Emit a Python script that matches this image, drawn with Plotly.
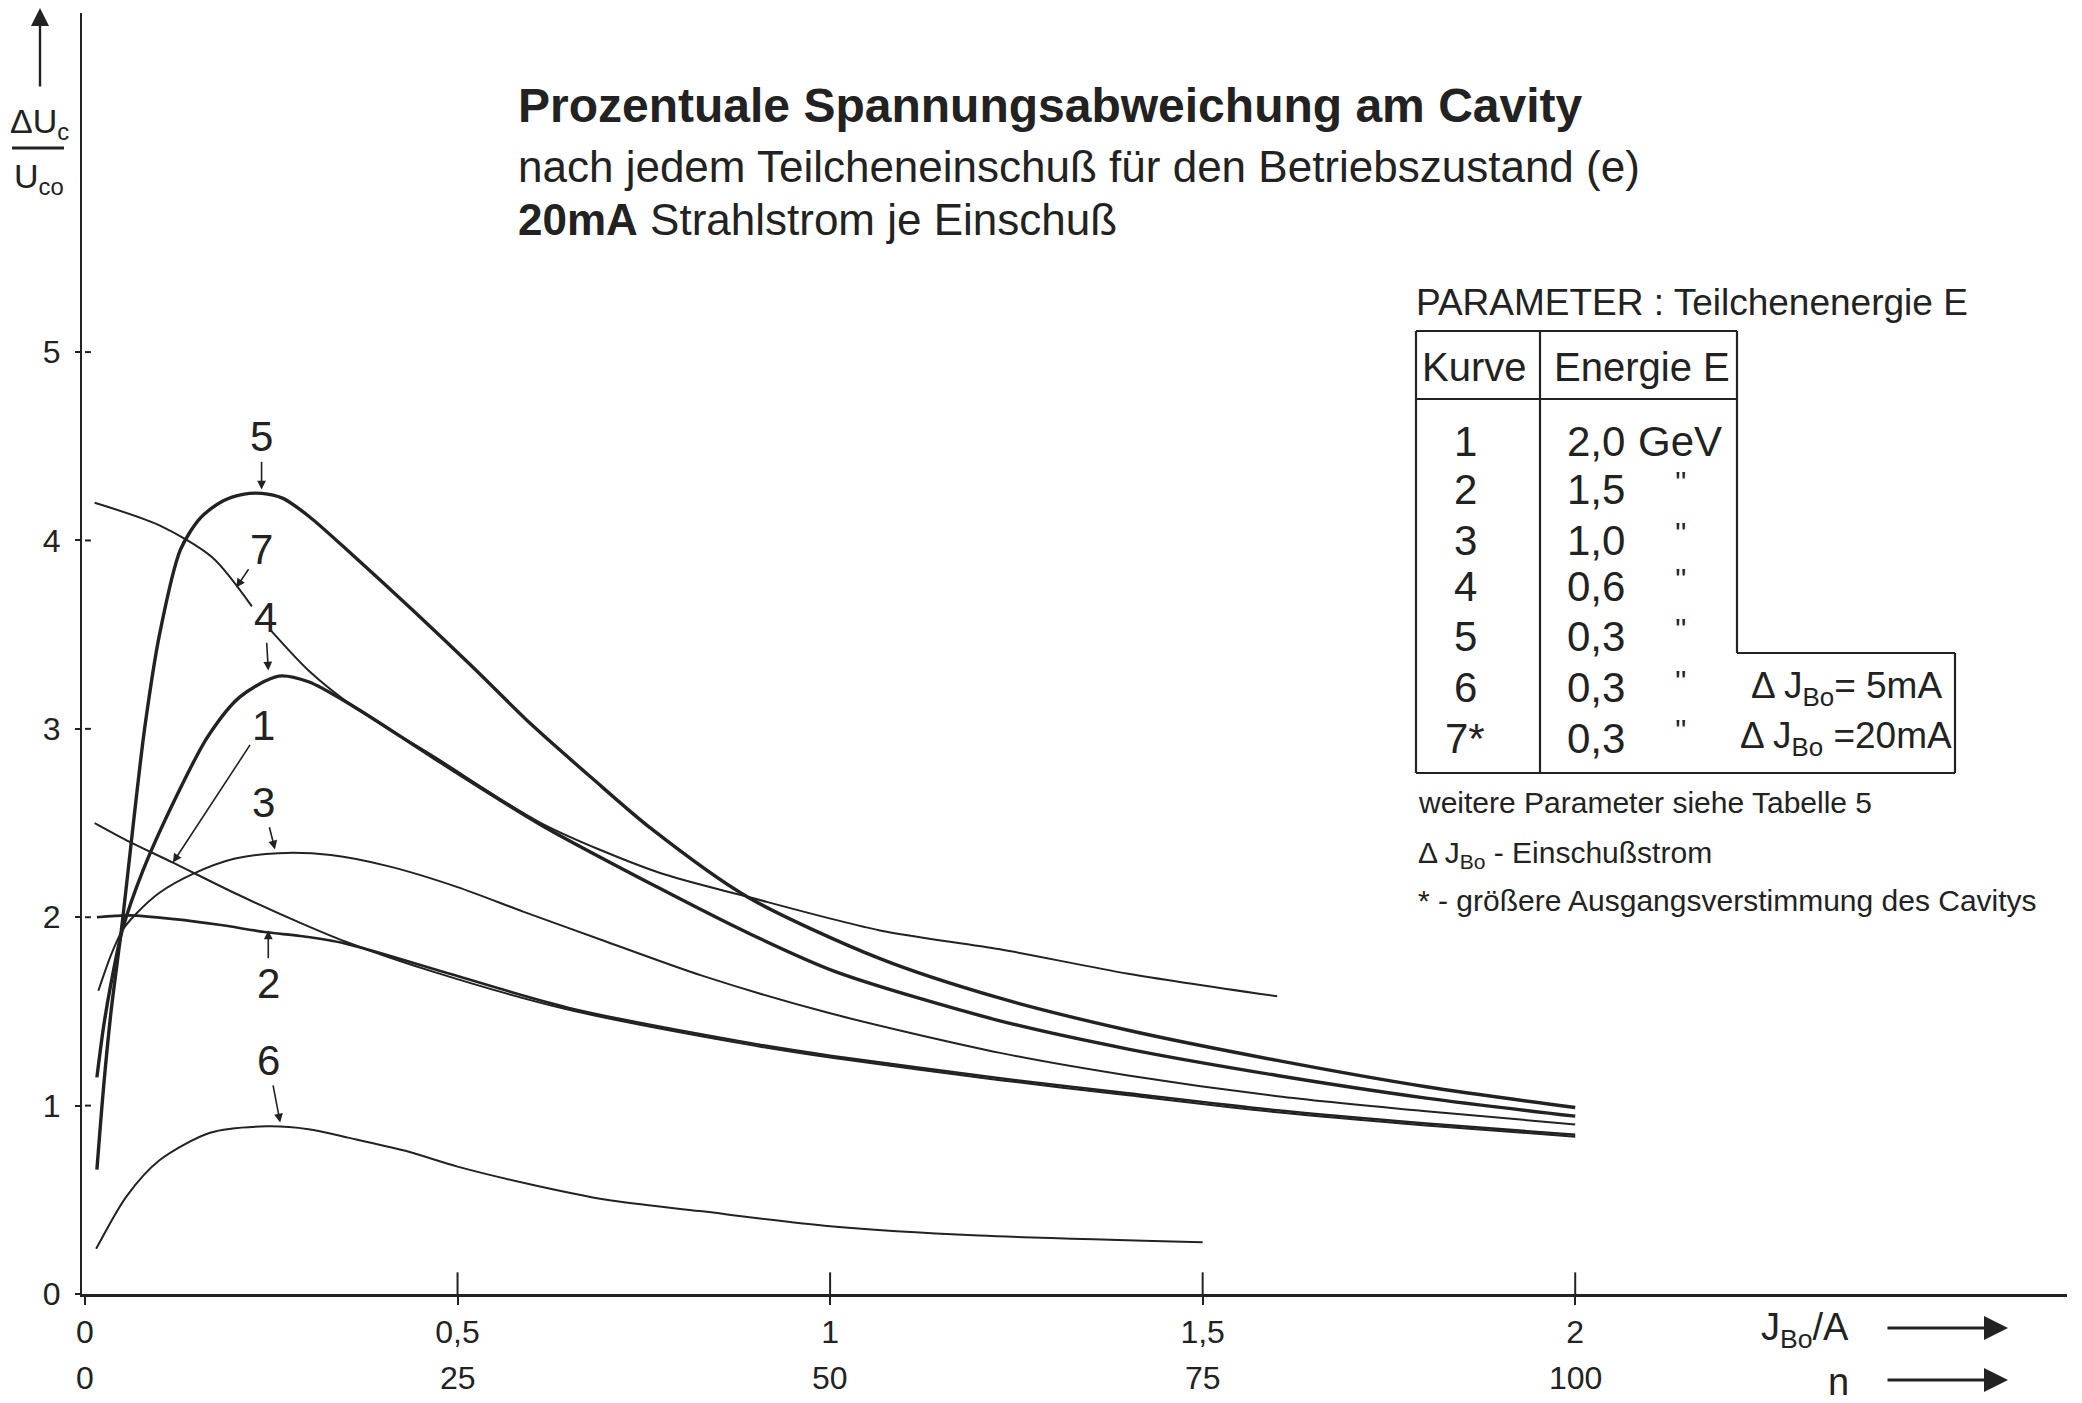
import plotly.graph_objects as go

# ---------------- data ----------------
# x: J_Bo in A, y: Delta U_c / U_co in %
c1_x = [0.013, 0.06, 0.118, 0.2, 0.289, 0.35, 0.468, 0.648, 0.888, 1.0, 1.228, 1.4, 1.6, 1.8, 2.0]
c1_y = [2.50, 2.40, 2.29, 2.13, 1.97, 1.87, 1.71, 1.51, 1.325, 1.255, 1.135, 1.055, 0.965, 0.895, 0.835]

c2_x = [0.016, 0.06, 0.12, 0.18, 0.244, 0.289, 0.35, 0.468, 0.648, 0.888, 1.0, 1.228, 1.4, 1.6, 1.8, 2.0]
c2_y = [2.00, 2.01, 1.99, 1.96, 1.92, 1.90, 1.86, 1.725, 1.52, 1.335, 1.265, 1.145, 1.065, 0.975, 0.905, 0.845]

c3_x = [0.018, 0.035, 0.05, 0.069, 0.1, 0.145, 0.2, 0.26, 0.33, 0.408, 0.5, 0.588, 0.7, 0.828, 1.0, 1.228, 1.4, 1.6, 1.8, 2.0]
c3_y = [1.61, 1.80, 1.93, 2.02, 2.13, 2.23, 2.31, 2.34, 2.33, 2.27, 2.16, 2.03, 1.87, 1.69, 1.49, 1.28, 1.16, 1.05, 0.97, 0.90]

c4_x = [0.016, 0.025, 0.035, 0.05, 0.078, 0.12, 0.165, 0.208, 0.26, 0.3, 0.36, 0.47, 0.612, 0.768, 0.888, 1.008, 1.228, 1.4, 1.6, 1.8, 2.0]
c4_y = [1.15, 1.42, 1.65, 1.93, 2.25, 2.62, 2.96, 3.17, 3.28, 3.25, 3.12, 2.84, 2.49, 2.16, 1.92, 1.71, 1.45, 1.30, 1.16, 1.04, 0.944]

c5_x = [0.016, 0.025, 0.035, 0.05, 0.065, 0.08, 0.1, 0.128, 0.155, 0.185, 0.212, 0.237, 0.265, 0.3, 0.36, 0.44, 0.52, 0.6, 0.68, 0.76, 0.888, 1.067, 1.228, 1.4, 1.6, 1.8, 2.0]
c5_y = [0.66, 1.10, 1.50, 1.97, 2.50, 3.00, 3.50, 3.95, 4.12, 4.21, 4.245, 4.25, 4.225, 4.13, 3.92, 3.63, 3.33, 3.02, 2.74, 2.47, 2.11, 1.78, 1.57, 1.40, 1.24, 1.10, 0.99]

c6_x = [0.015, 0.056, 0.1, 0.168, 0.244, 0.3, 0.353, 0.43, 0.5, 0.6, 0.7, 0.825, 1.0, 1.2, 1.5]
c6_y = [0.24, 0.52, 0.71, 0.856, 0.89, 0.875, 0.83, 0.76, 0.676, 0.58, 0.50, 0.44, 0.36, 0.31, 0.275]

# curve 7 is interrupted where label "4" sits (None = gap)
c7_x = [0.013, 0.1, 0.171, 0.224, None, 0.25, 0.3, 0.36, 0.47, 0.612, 0.768, 0.888, 1.067, 1.228, 1.4, 1.6]
c7_y = [4.20, 4.08, 3.91, 3.65, None, 3.52, 3.31, 3.12, 2.85, 2.50, 2.24, 2.11, 1.93, 1.83, 1.70, 1.58]

curves = [
    ("1", c1_x, c1_y, 2.0),
    ("2", c2_x, c2_y, 2.6),
    ("3", c3_x, c3_y, 2.0),
    ("4", c4_x, c4_y, 3.4),
    ("5", c5_x, c5_y, 3.4),
    ("6", c6_x, c6_y, 2.0),
    ("7", c7_x, c7_y, 2.0),
]

# curve labels: (text, label position x,y) -> (arrow head x,y)
label_names = ["5", "7", "4", "1", "3", "2", "6"]
label_pos_x = [0.237, 0.237, 0.242, 0.239, 0.239, 0.246, 0.246]
label_pos_y = [4.55, 3.95, 3.59, 3.02, 2.61, 1.65, 1.24]
label_tip_x = [0.237, 0.203, 0.246, 0.118, 0.255, 0.246, 0.262]
label_tip_y = [4.27, 3.75, 3.31, 2.29, 2.36, 1.93, 0.91]

x_tickvals = [0, 0.5, 1, 1.5, 2]
x_ticktext = ["0", "0,5", "1", "1,5", "2"]
y_tickvals = [0, 1, 2, 3, 4, 5]
n_ticks = [0, 25, 50, 75, 100]
shot_current_A = 0.02  # 20 mA per injection

table_kurve = ["1", "2", "3", "4", "5", "6", "7*"]
table_energy = ["2,0", "1,5", "1,0", "0,6", "0,3", "0,3", "0,3"]
table_unit = ["GeV", "''", "''", "''", "''", "''", "''"]
table_extra = ["", "", "", "", "", "Δ J<sub>Bo</sub>= 5mA", "Δ J<sub>Bo</sub> =20mA"]

# ---------------- layout geometry ----------------
W_PX, H_PX = 2082, 1403
L, R, T, B = 82, 15, 13, 109
PW = W_PX - L - R
PH = H_PX - T - B
X_RANGE = [-0.004, 2.66]
Y_RANGE = [0, 6.8]


def px(xp):
    return (xp - L) / PW


def py(yp):
    return (H_PX - B - yp) / PH


FONT = "Liberation Sans, Arial, sans-serif"
INK = "#222222"

fig = go.Figure()
for name, xs, ys, w in curves:
    fig.add_trace(go.Scatter(
        x=xs, y=ys, mode="lines", name=name, connectgaps=False,
        line=dict(color=INK, width=w, shape="spline", smoothing=0.8),
        showlegend=False, hoverinfo="skip"))

annotations = []
shapes = []

# curve labels with arrows
for t, lx, ly, tx, ty in zip(label_names, label_pos_x, label_pos_y, label_tip_x, label_tip_y):
    annotations.append(dict(
        x=tx, y=ty, ax=lx, ay=ly, xref="x", yref="y", axref="x", ayref="y",
        text=t, showarrow=True, arrowhead=2, arrowsize=1.1, arrowwidth=1.6,
        arrowcolor=INK, standoff=0, startstandoff=0,
        font=dict(family=FONT, size=42, color=INK)))

# crossing tick marks (parts not drawn by the axis ticks)
for v in y_tickvals[1:]:
    shapes.append(dict(type="line", xref="x", yref="y", x0=0, x1=0.008, y0=v, y1=v,
                       line=dict(color=INK, width=2)))
for v in x_tickvals[1:]:
    shapes.append(dict(type="line", xref="x", yref="y", x0=v, x1=v, y0=0, y1=0.115,
                       line=dict(color=INK, width=2)))

# n scale (second row of x labels)
for n in n_ticks:
    annotations.append(dict(x=n * shot_current_A, y=py(1378), xref="x", yref="paper",
                            text=str(n), showarrow=False, xanchor="center", yanchor="middle",
                            font=dict(family=FONT, size=32, color=INK)))

# axis names with arrows
annotations.append(dict(x=px(1805), y=py(1330), xref="paper", yref="paper",
                        text="J<sub>Bo</sub>/A", showarrow=False, xanchor="center", yanchor="middle",
                        font=dict(family=FONT, size=38, color=INK)))
annotations.append(dict(x=px(1838), y=py(1382), xref="paper", yref="paper",
                        text="n", showarrow=False, xanchor="center", yanchor="middle",
                        font=dict(family=FONT, size=38, color=INK)))
for yy in (1328, 1380):
    annotations.append(dict(x=px(2008), y=py(yy), xref="paper", yref="paper", ax=-122, ay=0,
                            text="", showarrow=True, arrowhead=2, arrowsize=1.6,
                            arrowwidth=3, arrowcolor=INK))
# y-axis name
annotations.append(dict(x=px(40), y=py(8), xref="paper", yref="paper", ax=0, ay=80,
                        text="", showarrow=True, arrowhead=2, arrowsize=1.5,
                        arrowwidth=2.4, arrowcolor=INK))
annotations.append(dict(x=px(39), y=py(124), xref="paper", yref="paper",
                        text="ΔU<sub>c</sub>", showarrow=False, xanchor="center", yanchor="middle",
                        font=dict(family=FONT, size=34, color=INK)))
annotations.append(dict(x=px(39), y=py(178), xref="paper", yref="paper",
                        text="U<sub>co</sub>", showarrow=False, xanchor="center", yanchor="middle",
                        font=dict(family=FONT, size=34, color=INK)))
shapes.append(dict(type="line", xref="paper", yref="paper", x0=px(12), x1=px(64),
                   y0=py(148), y1=py(148), line=dict(color=INK, width=3)))

# title block
annotations.append(dict(x=px(516), y=py(106), xref="paper", yref="paper",
                        text="<b>Prozentuale Spannungsabweichung am Cavity</b>",
                        showarrow=False, xanchor="left", yanchor="middle",
                        font=dict(family=FONT, size=48, color=INK)))
annotations.append(dict(x=px(516), y=py(166), xref="paper", yref="paper",
                        text="nach jedem Teilcheneinschuß für den Betriebszustand (e)",
                        showarrow=False, xanchor="left", yanchor="middle",
                        font=dict(family=FONT, size=44, color=INK)))
annotations.append(dict(x=px(516), y=py(220), xref="paper", yref="paper",
                        text="<b>20mA</b> Strahlstrom je Einschuß",
                        showarrow=False, xanchor="left", yanchor="middle",
                        font=dict(family=FONT, size=44, color=INK)))

# parameter table
annotations.append(dict(x=px(1414), y=py(302), xref="paper", yref="paper",
                        text="PARAMETER : Teilchenenergie E", showarrow=False,
                        xanchor="left", yanchor="middle",
                        font=dict(family=FONT, size=37, color=INK)))
tbl = [(1416, 331, 1737, 331), (1416, 399, 1737, 399), (1416, 331, 1416, 773),
       (1540, 331, 1540, 773), (1737, 331, 1737, 653), (1737, 653, 1955, 653),
       (1955, 653, 1955, 773), (1416, 773, 1955, 773)]
for x0, y0, x1, y1 in tbl:
    shapes.append(dict(type="line", xref="paper", yref="paper", x0=px(x0), y0=py(y0),
                       x1=px(x1), y1=py(y1), line=dict(color=INK, width=2.2)))
annotations.append(dict(x=px(1474), y=py(367), xref="paper", yref="paper", text="Kurve",
                        showarrow=False, xanchor="center", yanchor="middle",
                        font=dict(family=FONT, size=40, color=INK)))
annotations.append(dict(x=px(1642), y=py(367), xref="paper", yref="paper", text="Energie E",
                        showarrow=False, xanchor="center", yanchor="middle",
                        font=dict(family=FONT, size=40, color=INK)))
row_y = [441, 490, 540, 586, 636, 688, 738]
for k, e, u, ex, ry in zip(table_kurve, table_energy, table_unit, table_extra, row_y):
    annotations.append(dict(x=px(1465), y=py(ry), xref="paper", yref="paper", text=k,
                            showarrow=False, xanchor="center", yanchor="middle",
                            font=dict(family=FONT, size=42, color=INK)))
    annotations.append(dict(x=px(1596), y=py(ry), xref="paper", yref="paper", text=e,
                            showarrow=False, xanchor="center", yanchor="middle",
                            font=dict(family=FONT, size=42, color=INK)))
    annotations.append(dict(x=px(1680), y=py(ry - (0 if u == "GeV" else 8)), xref="paper",
                            yref="paper", text=u, showarrow=False, xanchor="center",
                            yanchor="middle", font=dict(family=FONT, size=42 if u == "GeV" else 30,
                                                        color=INK)))
    if ex:
        annotations.append(dict(x=px(1846), y=py(ry), xref="paper", yref="paper", text=ex,
                                showarrow=False, xanchor="center", yanchor="middle",
                                font=dict(family=FONT, size=37, color=INK)))
notes = [("weitere Parameter siehe Tabelle 5", 802),
         ("Δ J<sub>Bo</sub> - Einschußstrom", 854),
         ("* - größere Ausgangsverstimmung des Cavitys", 900)]
for txt, ny in notes:
    annotations.append(dict(x=px(1416), y=py(ny), xref="paper", yref="paper", text=txt,
                            showarrow=False, xanchor="left", yanchor="middle",
                            font=dict(family=FONT, size=30, color=INK)))

fig.update_layout(
    width=W_PX, height=H_PX,
    margin=dict(l=L, r=R, t=T, b=B, autoexpand=False),
    paper_bgcolor="white", plot_bgcolor="white",
    font=dict(family=FONT, color=INK),
    xaxis=dict(range=X_RANGE, showgrid=False, zeroline=False, showline=True,
               linecolor=INK, linewidth=3, tickvals=x_tickvals, ticktext=x_ticktext,
               ticks="outside", ticklen=8, tickwidth=2, tickcolor=INK,
               ticklabelstandoff=0, tickfont=dict(family=FONT, size=32, color=INK)),
    yaxis=dict(range=Y_RANGE, showgrid=False, zeroline=False, showline=True,
               linecolor=INK, linewidth=2.2, tickvals=y_tickvals,
               ticks="outside", ticklen=5, tickwidth=2, tickcolor=INK,
               ticklabelstandoff=8, tickfont=dict(family=FONT, size=32, color=INK)),
    annotations=annotations, shapes=shapes,
)

fig.write_html("out.html")
